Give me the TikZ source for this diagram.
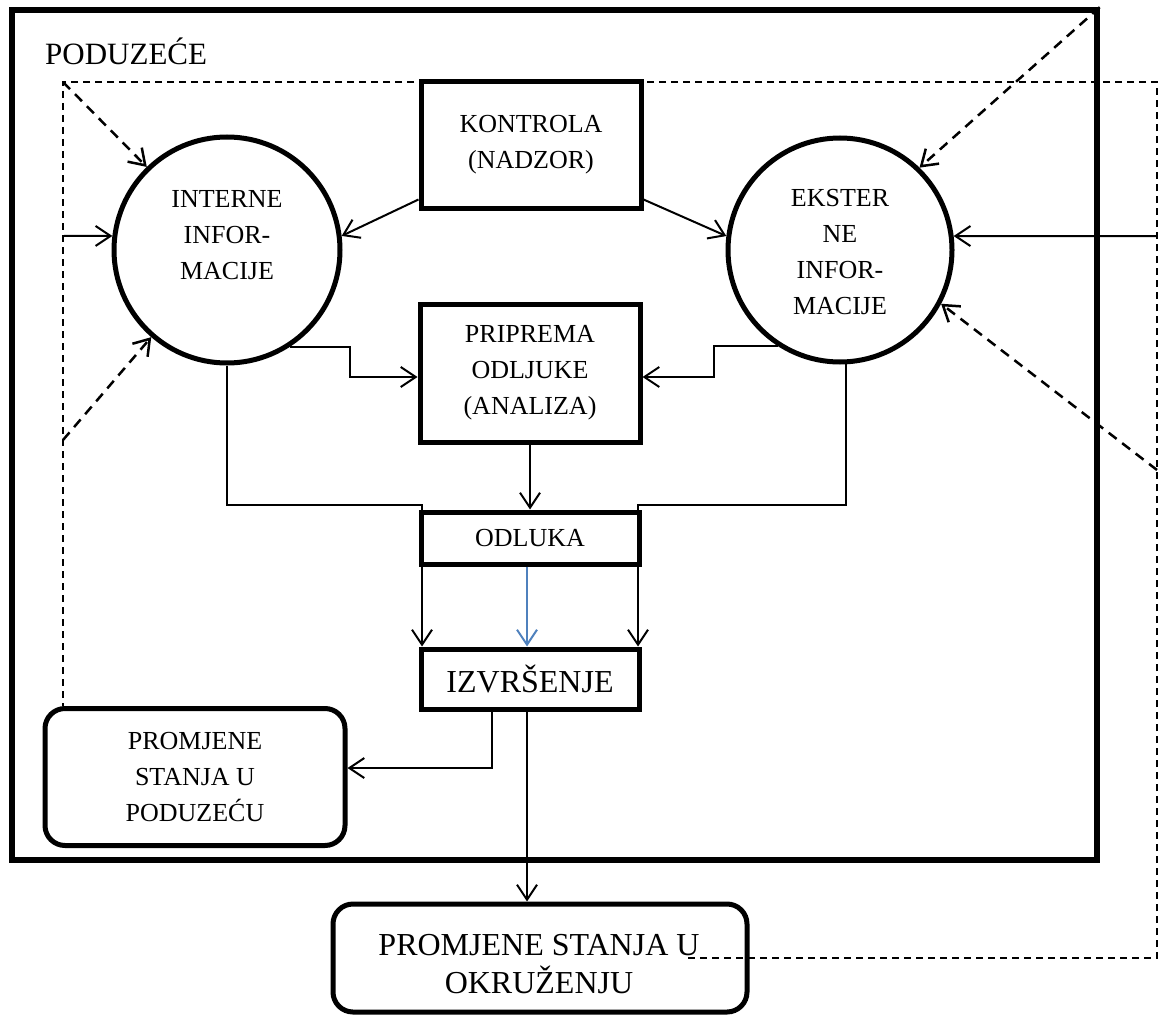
\documentclass[tikz,border=0pt]{standalone}
\usepackage{fontspec}
\setmainfont{Liberation Serif}
\usetikzlibrary{arrows.meta,calc}
\definecolor{arrblue}{RGB}{79,129,189}
\begin{document}
\begin{tikzpicture}[x=1pt,y=-1pt,
  txt/.style={font=\fontsize{26}{36}\selectfont, align=center, inner sep=0pt},
  circ/.style={draw, circle, line width=5pt, fill=white, inner sep=0pt},
  boxn/.style={draw, rectangle, line width=5pt, fill=white, inner sep=0pt, align=center, font=\fontsize{26}{36}\selectfont},
  rbox/.style={boxn, rounded corners=20pt},
  arr/.style={line width=2pt, -{Straight Barb[length=15pt,width=20pt]}},
  fb/.style={line width=1.5pt, dash pattern=on 7pt off 5pt},
  fbarr/.style={line width=2.5pt, dash pattern=on 10pt off 7pt, -{Straight Barb[length=15pt,width=20pt]}}
]
\useasboundingbox (0,0) rectangle (1161,1014);

% frame
\node[draw, line width=5.5pt, minimum width=1085pt, minimum height=850pt, inner sep=0pt] (frame) at (554.5,435) {};
\node[anchor=base west, inner sep=0pt, font=\fontsize{31}{36}\selectfont] (title) at (45,65) {PODUZEĆE};

% nodes
\node[circ, minimum size=226pt] (int) at (227,250) {};
\node[txt] (inttxt) at (227,235) {INTERNE\\INFOR-\\MACIJE};
\node[circ, minimum size=224pt] (ext) at (840,250) {};
\node[txt] (exttxt) at (840,252) {EKSTER\\NE\\INFOR-\\MACIJE};

\node[boxn, minimum width=220pt, minimum height=126pt] (kon) at (531,145) {KONTROLA\\(NADZOR)};
\node[boxn, minimum width=220pt, minimum height=138pt] (pri) at (530,373) {PRIPREMA\\ODLJUKE\\(ANALIZA)};
\node[boxn, minimum width=218pt, minimum height=52pt] (odl) at (530,538) {ODLUKA};
\node[boxn, minimum width=218pt, minimum height=60pt, font=\fontsize{32}{36}\selectfont] (izv) at (530,679) {IZVRŠENJE};
\node[rbox, minimum width=300pt, minimum height=137pt] (pod) at (195,777) {PROMJENE\\STANJA U\\PODUZEĆU};
\node[rbox, minimum width=414pt, minimum height=108pt] (okr) at (540,958) {};
\node[txt, font=\fontsize{32}{38}\selectfont] (okrtxt) at (539,964) {PROMJENE STANJA U\\OKRUŽENJU};

% coordinates
\coordinate (tl) at (63,82);
\coordinate (tr) at (1157,82);
\coordinate (br) at (1157,958);
\coordinate (bs) at (688,958);
\coordinate (lm) at (63,236);
\coordinate (ll) at (63,440);
\coordinate (rm) at (1157,236);
\coordinate (rl) at (1157,470);
\coordinate (pa) at (350,377);
\coordinate (pb) at (714,377);
\coordinate (lj) at (422,505);
\coordinate (rj) at (638,505);
\coordinate (pc) at (492,768);
\coordinate (pd) at (527,800);

% feedback dashed
\draw[fb] (bs) -- (br) -- (tr) -- (tl) -- (tl |- pod.north);
\draw[fbarr] (tl) -- (int.134);
\draw[fbarr] (ll) -- (int.-131);
\draw[arr] (lm) -- (int.173);
\draw[fbarr] (frame.north east) -- (ext.46);
\draw[arr] (rm) -- (ext.7);
\draw[fbarr] (rl) -- (ext.-28);

% connectors
\draw[arr] ([yshift=11pt]kon.south west) -- (int.7);
\draw[arr] ([yshift=11pt]kon.south east) -- (ext.173);
\draw[arr] (int.-57) -| (pa) -- (pa -| pri.west);
\draw[arr] (ext.-123) -| (pb) -- (pb -| pri.east);
\draw[arr] (int.south) |- (lj) -- (lj |- izv.north);
\draw[arr] (ext.-87) |- (rj) -- (rj |- izv.north);
\draw[arr] (pri.south) -- (odl.north);
\draw[arr, arrblue] (pd |- odl.south) -- (pd |- izv.north);
\draw[arr] (pc |- izv.south) -- (pc) -- (pc -| pod.east);
\draw[arr] (pd |- izv.south) -- (pd |- okr.north);
\end{tikzpicture}
\end{document}
